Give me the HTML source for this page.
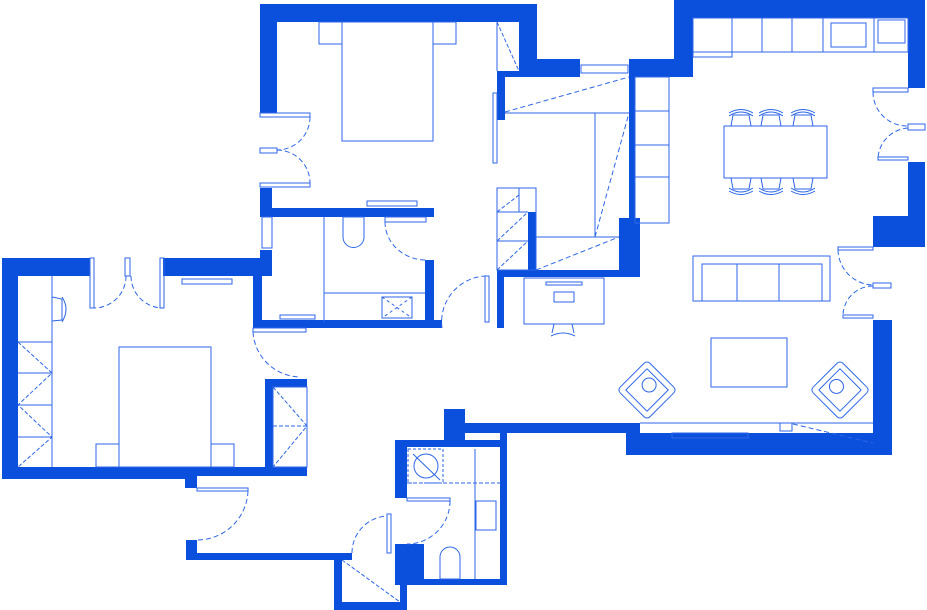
<!DOCTYPE html>
<html><head><meta charset="utf-8"><style>
html,body{margin:0;padding:0;background:#fff;width:927px;height:610px;overflow:hidden}
svg{display:block}
</style></head><body>
<svg width="927" height="610" viewBox="0 0 927 610" xmlns="http://www.w3.org/2000/svg">
<g fill="#0a50dc" stroke="none">
<!-- top bedroom -->
<rect x="260" y="4" width="277" height="18"/>
<rect x="260" y="4" width="17" height="109"/>
<rect x="519" y="4" width="18" height="68"/>
<rect x="519" y="59" width="61" height="18"/>
<rect x="497" y="71" width="22" height="6"/>
<rect x="497" y="77" width="8" height="43"/>
<rect x="629" y="59" width="64" height="18"/>
<rect x="674" y="0" width="19" height="77"/>
<rect x="674" y="0" width="251" height="18"/>
<rect x="908" y="0" width="17" height="88"/>
<rect x="629" y="59" width="6" height="160"/>
<rect x="619" y="218" width="21" height="59"/>
<rect x="497" y="270" width="143" height="7"/>
<rect x="497" y="270" width="7" height="58"/>
<rect x="528" y="212" width="8" height="65"/>
<!-- bath 1 -->
<rect x="260" y="188" width="12" height="29"/>
<rect x="260" y="208" width="174" height="9"/>
<rect x="250" y="258" width="22" height="18"/>
<rect x="253" y="276" width="9" height="52"/>
<rect x="253" y="320" width="189" height="8"/>
<rect x="425" y="260" width="9" height="68"/>
<!-- right living walls -->
<rect x="908" y="162" width="17" height="71"/>
<rect x="873" y="216" width="52" height="31"/>
<rect x="873" y="320" width="19" height="135"/>
<rect x="626" y="433" width="266" height="22"/>
<rect x="600" y="423" width="40" height="10"/>
<rect x="465" y="423" width="160" height="10"/>
<rect x="444" y="409" width="21" height="31"/>
<!-- bath 2 -->
<rect x="395" y="440" width="112" height="7"/>
<rect x="395" y="440" width="12" height="58"/>
<rect x="500" y="433" width="7" height="152"/>
<rect x="407" y="579" width="100" height="6"/>
<rect x="395" y="544" width="29" height="41"/>
<!-- closet room -->
<rect x="334" y="553" width="8" height="57"/>
<rect x="334" y="602" width="73" height="8"/>
<rect x="400" y="553" width="7" height="57"/>
<!-- hall bottom -->
<rect x="186" y="540" width="11" height="20"/>
<rect x="186" y="553" width="166" height="7"/>
<rect x="185" y="476" width="12" height="12"/>
<!-- left bedroom -->
<rect x="2" y="258" width="88" height="18"/>
<rect x="163" y="258" width="109" height="18"/>
<rect x="260" y="250" width="12" height="26"/>
<rect x="2" y="258" width="16" height="221"/>
<rect x="2" y="467" width="183" height="12"/>
<rect x="185" y="467" width="122" height="9"/>
<rect x="265" y="379" width="42" height="8"/>
<rect x="265" y="379" width="8" height="97"/>
</g>
<g fill="none" stroke="#2d66e8" stroke-width="1">
<!-- top bedroom furniture -->
<rect x="342" y="22" width="91" height="119"/>
<rect x="319" y="22" width="23" height="22"/>
<rect x="433" y="22" width="23" height="22"/>
<rect x="260" y="113" width="50" height="4"/>
<rect x="260" y="148" width="17" height="5"/>
<rect x="260" y="183" width="50" height="4"/>
<path d="M310 117 A33 33 0 0 1 277 150 M277 150 A33 33 0 0 1 310 183" stroke-dasharray="5 3"/>
<line x1="497" y1="22" x2="519" y2="71" stroke-dasharray="4 2"/>
<line x1="497" y1="22" x2="497" y2="71"/>
<rect x="493" y="93" width="4" height="70"/>
<rect x="581" y="65" width="47" height="8"/>
<line x1="505" y1="113" x2="629" y2="113"/>
<line x1="505" y1="112" x2="629" y2="77" stroke-dasharray="5 3"/>
<line x1="595" y1="113" x2="595" y2="237"/>
<line x1="595" y1="237" x2="629" y2="113" stroke-dasharray="5 3"/>
<line x1="536" y1="237" x2="619" y2="237"/>
<line x1="536" y1="270" x2="619" y2="237" stroke-dasharray="5 3"/>
<rect x="497" y="188" width="39" height="82"/>
<line x1="497" y1="212" x2="528" y2="212"/><line x1="497" y1="241" x2="528" y2="241"/>
<line x1="519" y1="188" x2="519" y2="212"/>
<path d="M497 212 L519 195 M497 241 L528 212 M497 270 L528 241" stroke-dasharray="4 2"/>
<rect x="367" y="201" width="50" height="5"/>
<!-- kitchen -->
<rect x="635" y="77" width="34" height="146"/>
<line x1="635" y1="111" x2="669" y2="111"/><line x1="635" y1="145" x2="669" y2="145"/><line x1="635" y1="177" x2="669" y2="177"/>
<rect x="693" y="18" width="215" height="34"/>
<rect x="693" y="52" width="39" height="5"/>
<path d="M732 18V52M762 18V52M792 18V52M823 18V52M874 18V52"/>
<rect x="831" y="23" width="35" height="24"/>
<rect x="878" y="20" width="27" height="23"/>
<!-- dining -->
<rect x="724" y="126" width="103" height="52"/>
<g id="ch">
<path d="M731 126 L733 115 L749 115 L751 126 M729 116 Q741 108 753 116 M729 113 Q741 106 753 113"/>
</g>
<use href="#ch" x="30"/><use href="#ch" x="62"/>
<g transform="translate(0 304) scale(1 -1)"><use href="#ch"/><use href="#ch" x="30"/><use href="#ch" x="62"/></g>
<!-- right doors -->
<rect x="873" y="88" width="35" height="4"/>
<rect x="908" y="124" width="17" height="6"/>
<rect x="878" y="157" width="30" height="3"/>
<path d="M873 92 A34 34 0 0 0 908 126 M908 128 A32 32 0 0 0 878 158" stroke-dasharray="5 3"/>
<rect x="838" y="247" width="35" height="3"/>
<rect x="873" y="283" width="18" height="5"/>
<rect x="843" y="315" width="30" height="3"/>
<path d="M838 250 A36 36 0 0 0 873 285 M873 286 A30 30 0 0 0 843 315" stroke-dasharray="5 3"/>
<!-- living -->
<rect x="693" y="256" width="137" height="45"/>
<path d="M702 301V264H822V301M737 264V301M779 264V301"/>
<rect x="711" y="338" width="76" height="49"/>
<g transform="rotate(45 647 390)"><rect x="626" y="369" width="42" height="42" rx="4"/><path d="M632 375H662V405M632 375V405H662"/><circle cx="645" cy="385" r="7"/></g>
<g transform="rotate(-45 840 390)"><rect x="819" y="369" width="42" height="42" rx="4"/><path d="M825 375H855V405M825 375V405H855"/><circle cx="840" cy="385" r="7"/></g>
<line x1="640" y1="423" x2="873" y2="423"/>
<rect x="672" y="433" width="76" height="5"/>
<line x1="793" y1="424" x2="873" y2="443" stroke-dasharray="5 3"/>
<rect x="780" y="423" width="12" height="8"/>
<!-- desk -->
<rect x="524" y="278" width="80" height="46"/>
<rect x="554" y="292" width="20" height="10"/>
<rect x="546" y="282" width="36" height="3"/>
<path d="M551 336 Q563 330 575 336 M552 333 L554 324 M574 333 L572 324"/>
<!-- bath 1 -->
<path d="M324 217V322M324 293H425"/>
<path d="M343 217V237A10.5 10.5 0 0 0 364 237V217Z"/>
<rect x="382" y="297" width="30" height="21"/>
<path d="M382 297L412 318M412 297L382 318" stroke-dasharray="3 3"/>
<rect x="385" y="217" width="41" height="5"/>
<path d="M385 222 A41 38 0 0 0 426 260" stroke-dasharray="5 3"/>
<rect x="280" y="315" width="35" height="4"/>
<rect x="262" y="217" width="10" height="31"/>
<rect x="253" y="328" width="53" height="4"/>
<path d="M442 328 A46 46 0 0 1 486 276" stroke-dasharray="5 3"/>
<rect x="485" y="276" width="4" height="46"/>
<!-- left bedroom -->
<line x1="52" y1="276" x2="52" y2="467"/>
<path d="M18 342H52M18 373H52M18 405H52M18 437H52"/>
<path d="M18 342L52 373L18 405L52 437L18 467" stroke-dasharray="4 2"/>
<rect x="119" y="347" width="92" height="120"/>
<rect x="96" y="444" width="23" height="23"/>
<rect x="211" y="444" width="23" height="23"/>
<rect x="90" y="258" width="4" height="50"/>
<rect x="125" y="258" width="5" height="18"/>
<rect x="160" y="258" width="4" height="50"/>
<path d="M126 276 A32 32 0 0 1 94 308 M131 276 A32 32 0 0 0 163 308" stroke-dasharray="5 3"/>
<rect x="182" y="279" width="50" height="5"/>
<path d="M52 297L62 299L62 320L52 321M62 297Q70 309 62 322"/>
<rect x="273" y="387" width="34" height="80"/>
<path d="M273 387L307 426L273 467M273 426H307" stroke-dasharray="4 2"/>
<path d="M253 332 A48 48 0 0 0 300 377" stroke-dasharray="5 3"/>
<rect x="197" y="488" width="51" height="3"/>
<path d="M248 491 A51 51 0 0 1 197 540" stroke-dasharray="5 3"/>
<!-- bath 2 -->
<rect x="408" y="449" width="35" height="34" stroke-dasharray="3 2"/>
<circle cx="426" cy="466" r="12"/>
<line x1="413" y1="454" x2="440" y2="480"/>
<line x1="407" y1="483" x2="500" y2="483" stroke-dasharray="4 2"/>
<line x1="475" y1="449" x2="475" y2="579"/>
<rect x="476" y="501" width="20" height="29"/>
<path d="M440 579V557A10 10 0 0 1 460 557V579Z"/>
<rect x="407" y="498" width="43" height="3"/>
<path d="M450 501 A43 43 0 0 1 407 544" stroke-dasharray="5 3"/>
<rect x="387" y="514" width="4" height="39"/>
<path d="M352 553 A37 37 0 0 1 387 516" stroke-dasharray="5 3"/>
<line x1="342" y1="560" x2="400" y2="602" stroke-dasharray="4 2"/>
</g>
</svg>
</body></html>
